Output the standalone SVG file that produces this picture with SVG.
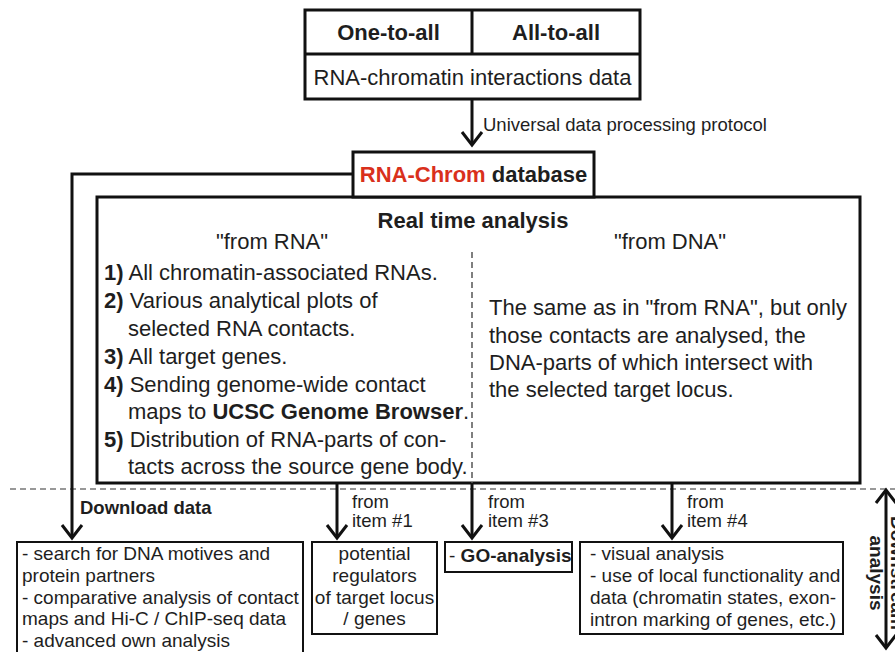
<svg xmlns="http://www.w3.org/2000/svg" width="895" height="652" viewBox="0 0 895 652">
  <defs>
    <style>
      text { font-family: "Liberation Sans", Arial, sans-serif; fill: #1e1e1e; }
      .big { font-size: 22px; }
      .mid { font-size: 18.5px; }
      .small { font-size: 19px; }
      .b { font-weight: bold; }
      .red { fill: #d9301c; }
      .box { fill: #fff; stroke: #111; stroke-width: 3; }
      .sbox { fill: #fff; stroke: #111; stroke-width: 2; }
      .line { fill: none; stroke: #111; stroke-width: 3; }
      .dash { fill: none; stroke: #777; stroke-width: 1.5; stroke-dasharray: 6 4; }
      .mc { text-anchor: middle; }
    </style>
    <!-- open chevron arrowhead, tip at the path end -->
    <marker id="chev" viewBox="-16 -13 20 26" refX="0" refY="0" markerWidth="20" markerHeight="26" markerUnits="userSpaceOnUse" orient="auto-start-reverse" overflow="visible">
      <path d="M-13,-10 L0,0 L-13,10" fill="none" stroke="#111" stroke-width="3"/>
    </marker>
  </defs>

  <!-- downstream separator -->
  <line class="dash" x1="10" y1="489" x2="895" y2="489"/>

  <!-- source data box -->
  <g id="data-source">
    <rect class="box" x="305" y="10" width="335" height="89"/>
    <line class="line" x1="305" y1="54" x2="640" y2="54"/>
    <line class="line" x1="472" y1="10" x2="472" y2="54"/>
    <text class="big b mc" x="388.5" y="40">One-to-all</text>
    <text class="big b mc" x="556" y="40">All-to-all</text>
    <text class="big mc" x="472.5" y="85">RNA-chromatin interactions data</text>
  </g>

  <!-- real time analysis box -->
  <g id="real-time-analysis">
    <rect class="box" x="97" y="197" width="763" height="286"/>
    <line x1="472" y1="252" x2="472" y2="483" stroke="#555" stroke-width="1.5" stroke-dasharray="6 4"/>
    <text class="big b mc" x="473" y="228">Real time analysis</text>
    <text class="big mc" x="272" y="249">"from RNA"</text>
    <text class="big mc" x="670" y="249">"from DNA"</text>
    <text class="big" x="104" y="280"><tspan class="b">1)</tspan> All chromatin-associated RNAs.</text>
    <text class="big" x="104" y="308"><tspan class="b">2)</tspan> Various analytical plots of</text>
    <text class="big" x="128" y="336">selected RNA contacts.</text>
    <text class="big" x="104" y="364"><tspan class="b">3)</tspan> All target genes.</text>
    <text class="big" x="104" y="392"><tspan class="b">4)</tspan> Sending genome-wide contact</text>
    <text class="big" x="128" y="419">maps to <tspan class="b">UCSC Genome Browser</tspan>.</text>
    <text class="big" x="104" y="447"><tspan class="b">5)</tspan> Distribution of RNA-parts of con-</text>
    <text class="big" x="128" y="474">tacts across the source gene body.</text>
    <text class="big" x="489" y="315">The same as in "from RNA", but only</text>
    <text class="big" x="489" y="343">those contacts are analysed, the</text>
    <text class="big" x="489" y="370">DNA-parts of which intersect with</text>
    <text class="big" x="489" y="397">the selected target locus.</text>
  </g>

  <!-- database box -->
  <g id="database">
    <rect class="box" x="353" y="152" width="241" height="45"/>
    <text class="big b mc" x="473.5" y="182"><tspan class="red">RNA-Chrom</tspan> database</text>
  </g>

  <!-- downstream analysis boxes -->
  <g id="download-analysis">
    <rect class="sbox" x="17" y="542" width="286" height="120"/>
    <text class="small" x="22" y="560">- search for DNA motives and</text>
    <text class="small" x="22" y="582">protein partners</text>
    <text class="small" x="22" y="603.5">- comparative analysis of contact</text>
    <text class="small" x="22" y="625">maps and Hi-C / ChIP-seq data</text>
    <text class="small" x="22" y="647">- advanced own analysis</text>
  </g>

  <g id="regulators">
    <rect class="sbox" x="312" y="542" width="125" height="92"/>
    <text class="small mc" x="374.5" y="560">potential</text>
    <text class="small mc" x="374.5" y="582">regulators</text>
    <text class="small mc" x="374.5" y="603.5">of target locus</text>
    <text class="small mc" x="374.5" y="625">/ genes</text>
  </g>

  <g id="go-analysis">
    <rect class="sbox" x="445" y="542" width="127" height="30"/>
    <text class="small" x="449" y="562">- <tspan class="b">GO-analysis</tspan></text>
  </g>

  <g id="visual-analysis">
    <rect class="sbox" x="580" y="542" width="263" height="92"/>
    <text class="small" x="590" y="560">- visual analysis</text>
    <text class="small" x="590" y="582">- use of local functionality and</text>
    <text class="small" x="590" y="604">data (chromatin states, exon-</text>
    <text class="small" x="590" y="626">intron marking of genes, etc.)</text>
  </g>

  <!-- downstream analysis axis label -->
  <g id="downstream-label">
    <text class="small b mc" transform="translate(870 573) rotate(90)" x="0" y="-21">Downstream</text>
    <text class="small b mc" transform="translate(870 573) rotate(90)" x="0" y="0">analysis</text>
  </g>

  <!-- connectors -->
  <g id="connectors">
    <line class="line" x1="472" y1="100" x2="472" y2="145" marker-end="url(#chev)"/>
    <polyline class="line" points="353,174 72,174 72,538" marker-end="url(#chev)"/>
    <line class="line" x1="337" y1="483" x2="337" y2="538" marker-end="url(#chev)"/>
    <line class="line" x1="472" y1="483" x2="472" y2="538" marker-end="url(#chev)"/>
    <line class="line" x1="672" y1="483" x2="672" y2="538" marker-end="url(#chev)"/>
    <line class="line" x1="886" y1="490" x2="886" y2="648" marker-start="url(#chev)" marker-end="url(#chev)"/>
    <text class="mid" x="483" y="131">Universal data processing protocol</text>
    <text class="mid b" x="80" y="514">Download data</text>
    <text class="mid" x="352" y="508">from</text>
    <text class="mid" x="352" y="527">item #1</text>
    <text class="mid" x="488" y="508">from</text>
    <text class="mid" x="488" y="527">item #3</text>
    <text class="mid" x="687" y="508">from</text>
    <text class="mid" x="687" y="527">item #4</text>
  </g>
</svg>
